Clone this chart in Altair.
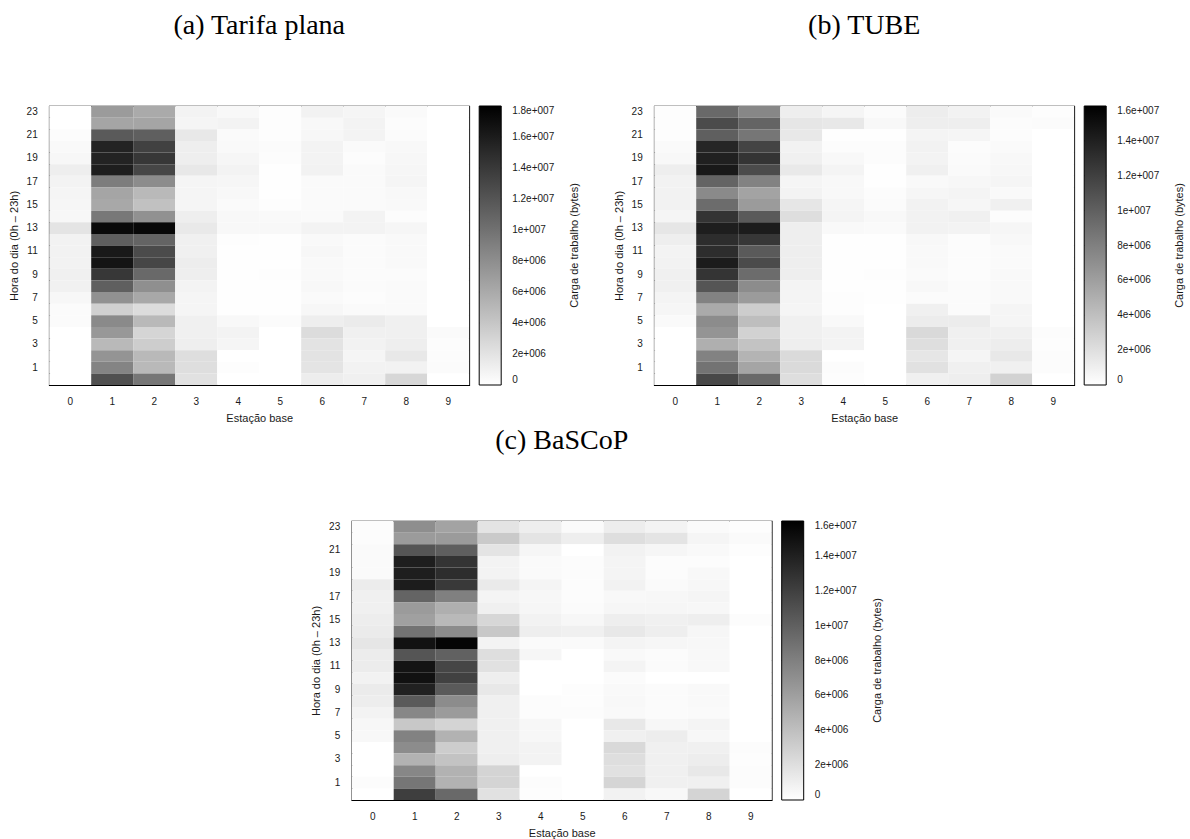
import altair as alt
import pandas as pd

STATIONS = list(range(10))
HOURS_TOP_DOWN = list(range(23, -1, -1))
Y_LABELS = list(range(1, 24, 2))
TITLES = ["(a) Tarifa plana", "(b) TUBE", "(c) BaSCoP"]
CB_TITLE = "Carga de trabalho (bytes)"
CB_MAX = [18e6, 16e6, 16e6]
CB_TICKS_18 = [0, 2e6, 4e6, 6e6, 8e6, 10e6, 12e6, 14e6, 16e6, 18e6]
CB_TICKS_16 = [0, 2e6, 4e6, 6e6, 8e6, 10e6, 12e6, 14e6, 16e6]

# workload in millions of bytes; rows from hour 23 (top) down to hour 0, columns = stations 0..9
TARIFA = [
    [0, 7.06, 6.0, 0.85, 0.49, 0.14, 0.92, 0.71, 0.35, 0],
    [0, 6.35, 6.35, 0.71, 0.85, 0.14, 0.49, 0.85, 0.21, 0],
    [0.21, 11.65, 11.29, 1.62, 0.35, 0.14, 0.56, 0.85, 0.28, 0],
    [0.42, 15.53, 13.41, 1.2, 0.42, 0.28, 0.85, 0.35, 0.49, 0],
    [0.56, 15.53, 14.12, 1.2, 0.64, 0.21, 0.85, 0.21, 0.56, 0],
    [1.2, 15.88, 13.06, 1.62, 0.85, 0.07, 0.92, 0.35, 0.64, 0],
    [0.85, 9.18, 8.12, 0.71, 0.64, 0.07, 0.35, 0.35, 0.71, 0],
    [0.71, 6.35, 4.94, 0.71, 0.49, 0.07, 0.35, 0.35, 0.49, 0],
    [0.64, 6.14, 4.38, 0.71, 0.35, 0.14, 0.35, 0.35, 0.42, 0],
    [0.56, 9.53, 7.76, 1.2, 0.49, 0.42, 0.35, 0.85, 0.21, 0],
    [1.91, 17.29, 17.44, 1.55, 0.49, 0.49, 0.85, 0.85, 0.64, 0],
    [0.92, 11.29, 10.94, 1.06, 0.14, 0.07, 0.42, 0.28, 0.42, 0],
    [0.92, 16.24, 12.71, 1.06, 0.07, 0.07, 0.56, 0.28, 0.42, 0],
    [0.92, 16.59, 13.06, 1.27, 0.07, 0.07, 0.42, 0.28, 0.42, 0],
    [1.06, 14.12, 10.59, 1.2, 0.07, 0.14, 0.42, 0.28, 0.28, 0],
    [0.99, 11.29, 7.91, 0.85, 0.07, 0.07, 0.49, 0.28, 0.35, 0],
    [0.56, 7.76, 6.14, 0.71, 0.07, 0.07, 0.35, 0.21, 0.35, 0],
    [0.28, 3.32, 2.47, 0.71, 0.07, 0.07, 0.56, 0.35, 0.35, 0],
    [0.28, 8.26, 4.94, 1.06, 0.49, 0.28, 1.2, 1.41, 1.06, 0],
    [0, 7.27, 2.96, 1.06, 0.85, 0, 2.47, 1.06, 1.06, 0.35],
    [0, 4.94, 3.53, 1.2, 0.71, 0, 1.98, 0.92, 1.2, 0.21],
    [0, 7.55, 4.94, 2.33, 0, 0, 1.98, 0.71, 1.62, 0.21],
    [0, 8.68, 4.94, 2.33, 0.14, 0, 1.91, 0.92, 0.92, 0.28],
    [0, 12.35, 9.67, 2.12, 0, 0, 1.27, 1.06, 2.82, 0],
]

TUBE = [
    [0.13, 9.41, 7.53, 1.07, 0.63, 0.25, 1.13, 0.82, 0.31, 0.13],
    [0.13, 11.29, 9.73, 1.57, 1.44, 0.44, 1.07, 1.07, 0.19, 0.25],
    [0.13, 10.04, 8.6, 1.44, 0.06, 0.06, 0.69, 0.63, 0.19, 0],
    [0.31, 13.62, 11.73, 0.82, 0.19, 0.19, 0.82, 0.19, 0.31, 0],
    [0.44, 13.99, 12.74, 0.94, 0.44, 0.19, 0.75, 0.25, 0.44, 0],
    [1.07, 14.43, 11.29, 1.38, 0.69, 0.06, 0.94, 0.31, 0.5, 0],
    [0.82, 9.73, 7.84, 0.63, 0.44, 0.06, 0.38, 0.5, 0.63, 0],
    [0.82, 7.34, 5.77, 0.75, 0.44, 0.19, 0.56, 0.69, 0.38, 0],
    [0.82, 9.22, 6.27, 1.57, 0.63, 0.25, 0.82, 0.56, 0.94, 0],
    [0.63, 12.74, 10.35, 2.07, 0.69, 0.44, 0.82, 0.94, 0.19, 0],
    [1.57, 14.12, 14.24, 1.07, 0.38, 0.31, 0.82, 0.75, 0.56, 0],
    [1.07, 13.18, 12.55, 1.07, 0.06, 0.06, 0.44, 0.19, 0.44, 0],
    [0.75, 13.18, 10.35, 1.07, 0.06, 0.06, 0.38, 0.19, 0.31, 0],
    [0.82, 14.24, 11.29, 1.07, 0.06, 0.06, 0.38, 0.19, 0.31, 0],
    [0.94, 12.74, 9.22, 1.07, 0.06, 0.13, 0.31, 0.19, 0.38, 0],
    [0.94, 10.67, 7.22, 0.69, 0.06, 0.06, 0.44, 0.25, 0.38, 0],
    [0.69, 7.84, 6.27, 0.69, 0.13, 0.06, 0.25, 0.25, 0.38, 0],
    [0.56, 5.33, 3.14, 0.63, 0.13, 0, 0.94, 0.25, 0.63, 0],
    [0.31, 7.22, 4.08, 0.94, 0.38, 0, 1.19, 1.19, 0.63, 0],
    [0, 6.71, 2.82, 0.94, 0.75, 0, 2.38, 0.94, 0.94, 0.19],
    [0, 5.02, 3.76, 1.07, 0.75, 0, 2.07, 0.94, 1.13, 0.13],
    [0, 7.84, 4.71, 2.32, 0, 0, 1.57, 0.63, 1.44, 0.19],
    [0, 8.78, 5.65, 2.32, 0.19, 0, 1.88, 0.94, 0.94, 0.19],
    [0, 11.48, 9.41, 2.07, 0.13, 0, 0.94, 1.07, 2.82, 0],
]

BASCOP = [
    [0.19, 7.09, 5.77, 1.69, 1.07, 0.31, 1.13, 0.75, 0.31, 0.13],
    [0.19, 6.27, 6.27, 3.33, 1.69, 1.07, 2.07, 1.69, 0.63, 0.31],
    [0.31, 10.67, 10.04, 1.69, 0.56, 0, 0.82, 0.56, 0.38, 0.13],
    [0.31, 14.12, 12.74, 0.75, 0.31, 0.19, 0.69, 0.19, 0.19, 0],
    [0.31, 14.12, 13.18, 0.75, 0.31, 0.19, 0.69, 0.19, 0.44, 0],
    [1.19, 14.24, 12.42, 1.32, 0.69, 0.19, 0.82, 0.31, 0.5, 0],
    [0.94, 9.73, 7.97, 0.69, 0.5, 0.19, 0.44, 0.5, 0.63, 0],
    [0.94, 6.27, 5.02, 0.94, 0.56, 0.25, 0.56, 0.56, 0.5, 0],
    [1.13, 5.96, 4.39, 2.51, 0.82, 0.5, 1.07, 0.94, 1.07, 0.19],
    [1.25, 8.78, 7.22, 3.45, 1.07, 0.94, 1.44, 1.07, 0.56, 0],
    [1.57, 14.87, 15.69, 0.75, 0.31, 0.31, 0.69, 0.56, 0.5, 0],
    [1.19, 10.67, 9.91, 2.07, 0.56, 0, 0.38, 0.25, 0.44, 0],
    [1.19, 14.75, 11.61, 1.88, 0, 0, 0.69, 0.25, 0.44, 0],
    [0.82, 14.93, 11.92, 1.07, 0, 0, 0.25, 0, 0, 0],
    [1.25, 13.93, 10.35, 1.44, 0, 0.13, 0.38, 0.25, 0.38, 0],
    [1.13, 10.35, 7.22, 0.94, 0.19, 0.13, 0.44, 0.25, 0.38, 0],
    [0.75, 7.53, 6.27, 0.94, 0.19, 0.19, 0.38, 0.25, 0.31, 0],
    [0.5, 3.45, 2.7, 0.94, 0.5, 0, 1.44, 0.5, 0.69, 0],
    [0.44, 7.84, 4.83, 0.94, 0.5, 0, 0.94, 1.13, 0.5, 0],
    [0, 7.22, 3.14, 0.94, 0.75, 0, 2.38, 0.94, 0.94, 0.19],
    [0, 4.83, 3.76, 1.07, 0.75, 0, 2.07, 0.94, 1.13, 0.13],
    [0, 7.53, 4.83, 2.7, 0, 0, 1.88, 0.94, 1.44, 0.19],
    [0.19, 8.6, 4.83, 2.7, 0.19, 0, 2.64, 0.94, 0.94, 0.19],
    [0, 12.11, 9.41, 1.88, 0.13, 0, 0.82, 0.44, 2.7, 0],
]

SANS = "Liberation Sans"
SERIF = "Liberation Serif"
TXT = "#1a1a1a"
W, H = 420, 279
LABEL_EXPR = "datum.value == 0 ? '0' : replace(format(datum.value, '.2~e'), 'e+', 'e+00')"


def panel(title, rows, cbmax, ticks):
    recs = []
    for h, row in zip(HOURS_TOP_DOWN, rows):
        for s, v in zip(STATIONS, row):
            recs.append({"estacao": s, "hora": h, "carga": v * 1e6})
    df = pd.DataFrame(recs)

    heat = alt.Chart(df).mark_rect(strokeWidth=0).encode(
        x=alt.X(
            "estacao:O",
            scale=alt.Scale(paddingInner=0, paddingOuter=0),
            axis=alt.Axis(
                title="Estação base", labelAngle=0, ticks=False, tickSize=0,
                domain=False, labelPadding=11, titlePadding=6,
            ),
        ),
        y=alt.Y(
            "hora:O",
            sort="descending",
            scale=alt.Scale(paddingInner=0, paddingOuter=0),
            axis=alt.Axis(
                title="Hora do dia (0h – 23h)", values=Y_LABELS, ticks=False,
                tickSize=0, domain=False, labelPadding=12, titlePadding=7,
            ),
        ),
        color=alt.Color(
            "carga:Q",
            scale=alt.Scale(domain=[0, cbmax], range=["#ffffff", "#000000"],
                            interpolate="rgb"),
            legend=alt.Legend(
                title=None, orient="right", offset=10,
                padding=0, direction="vertical", gradientLength=H,
                gradientThickness=22, gradientStrokeColor="black",
                gradientStrokeWidth=1, values=ticks, labelExpr=LABEL_EXPR,
                labelOffset=11, labelOverlap=False, labelBaseline="middle",
            ),
        ),
    )

    # small colour-bar tick marks, positioned by their own value scale
    tdf = pd.DataFrame({"v": ticks[1:-1]})
    yq = alt.Y("v:Q", scale=alt.Scale(domain=[0, cbmax]), axis=None)
    tick_l = alt.Chart(tdf).mark_rule(color="#444", strokeWidth=1).encode(
        y=yq, x=alt.value(W + 10), x2=alt.value(W + 15))
    tick_r = alt.Chart(tdf).mark_rule(color="#444", strokeWidth=1).encode(
        y=yq, x=alt.value(W + 27), x2=alt.value(W + 32))

    cbt = alt.Chart(pd.DataFrame({"t": [CB_TITLE]})).mark_text(
        angle=270, font=SANS, fontSize=11, color=TXT, align="center",
        baseline="middle",
    ).encode(text="t:N", x=alt.value(W + 106), y=alt.value(H / 2))

    return (
        alt.layer(heat, tick_l, tick_r, cbt)
        .resolve_scale(y="independent")
        .properties(
            width=W, height=H,
            title=alt.TitleParams(
                text=title, font=SERIF, fontSize=28, fontWeight="normal",
                color="black", anchor="middle", frame="group",
                baseline="alphabetic", offset=44,
            ),
        )
    )


a = panel(TITLES[0], TARIFA, CB_MAX[0], CB_TICKS_18)
b = panel(TITLES[1], TUBE, CB_MAX[1], CB_TICKS_16)
c = panel(TITLES[2], BASCOP, CB_MAX[2], CB_TICKS_16)

top = (
    alt.hconcat(a, b, spacing=31)
    .resolve_scale(color="independent")
    .resolve_legend(color="independent")
)
chart = (
    alt.vconcat(top, c, spacing=2, center=True)
    .resolve_scale(color="independent")
    .resolve_legend(color="independent")
    .properties(padding={"left": 7, "top": 11, "right": 0, "bottom": 0},
                background="white")
    .configure_view(stroke="black", strokeWidth=1.2)
    .configure_axis(
        labelFont=SANS, labelFontSize=10, labelColor=TXT,
        titleFont=SANS, titleFontSize=11, titleFontWeight="normal", titleColor=TXT,
    )
    .configure_legend(
        labelFont=SANS, labelFontSize=10, labelColor=TXT,
        titleFont=SANS, titleFontSize=11, titleFontWeight="normal", titleColor=TXT,
    )
)

chart.save("out.html", embed_options={"renderer": "svg", "actions": False})
